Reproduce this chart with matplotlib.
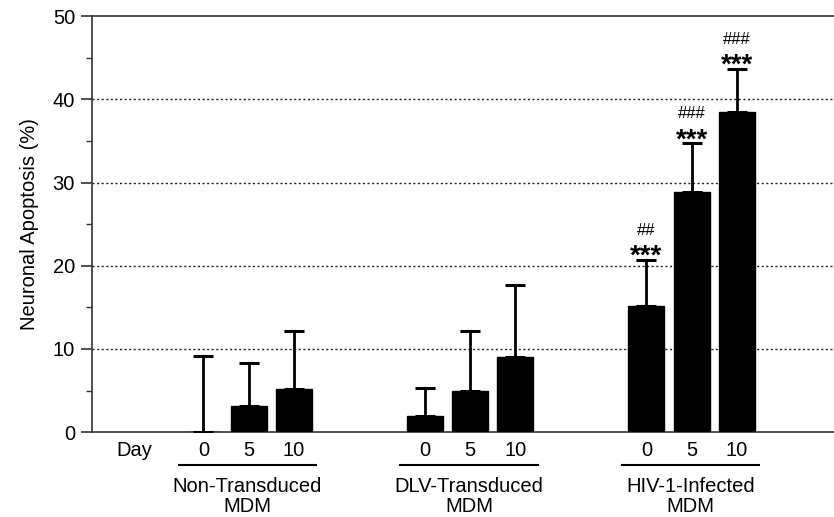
import matplotlib
matplotlib.use("Agg")
from matplotlib import pyplot as plt

plt.rcParams["font.family"] = ["Liberation Sans", "DejaVu Sans"]

groups = ["Non-Transduced\nMDM", "DLV-Transduced\nMDM", "HIV-1-Infected\nMDM"]
days = ["0", "5", "10"]
means = [0.0, 3.1, 5.2, 1.9, 4.9, 9.0, 15.2, 28.8, 38.5]
errors = [9.2, 5.2, 7.0, 3.4, 7.3, 8.7, 5.5, 5.9, 5.1]
stars = ["", "", "", "", "", "", "***", "***", "***"]
hashes = ["", "", "", "", "", "", "##", "###", "###"]

BAR_COLOR = "black"
SPINE_COLOR = "#333333"
FONT_SIZE = 14.5

# bar positions: three bars per group, wider gap between groups
positions = []
for g in range(len(groups)):
    for d in range(len(days)):
        positions.append(g * 4.9 + d)

fig = plt.figure(figsize=(8.34, 5.17), dpi=100)
ax = fig.add_axes([0.110, 0.164, 0.890, 0.805])

ax.bar(positions, means, width=0.8, color=BAR_COLOR, edgecolor=BAR_COLOR, zorder=3)
ax.errorbar(positions, means, yerr=[[0] * len(errors), errors], fmt="none",
            ecolor="black", elinewidth=2.0, capsize=7, capthick=2.2, zorder=4)

for x, m, e, s, h in zip(positions, means, errors, stars, hashes):
    top = m + e
    if s:
        ax.text(x, top - 0.45, s, ha="center", va="baseline", fontsize=20,
                fontweight="bold")
        ax.text(x, top + 3.0, h, ha="center", va="baseline", fontsize=12)

ax.set_ylim(0, 50)
ax.set_xlim(positions[0] - 2.47, positions[-1] + 2.15)
ax.set_yticks([0, 10, 20, 30, 40, 50])
ax.set_yticks([5, 15, 25, 35, 45], minor=True)
for y in [10, 20, 30, 40]:
    ax.axhline(y, color="#222222", linestyle=(0, (1.5, 1.8)), linewidth=1.0, zorder=1)

ax.spines["right"].set_visible(False)
for sp in ["left", "top", "bottom"]:
    ax.spines[sp].set_linewidth(1.2)
    ax.spines[sp].set_color(SPINE_COLOR)

ax.tick_params(axis="y", which="major", length=8, width=1.2, labelsize=FONT_SIZE,
               direction="out", color=SPINE_COLOR, pad=4)
ax.tick_params(axis="y", which="minor", length=4, width=1.0, direction="out",
               color=SPINE_COLOR)
ax.set_xticks(positions)
ax.set_xticklabels(days * len(groups), fontsize=FONT_SIZE)
ax.tick_params(axis="x", length=0, pad=6)
ax.set_ylabel("Neuronal Apoptosis (%)", fontsize=FONT_SIZE, labelpad=10)

trans = ax.get_xaxis_transform()
ax.text(positions[0] - 1.53, -0.0215, "Day", transform=trans, ha="center",
        va="top", fontsize=FONT_SIZE)
for g, name in enumerate(groups):
    start = positions[g * 3] - 0.55
    end = positions[g * 3 + 2] + 0.5
    ax.plot([start, end], [-0.079, -0.079], transform=trans, color="black",
            linewidth=1.5, clip_on=False)
    ax.text((start + end) / 2, -0.107, name, transform=trans, ha="center", va="top",
            fontsize=FONT_SIZE, linespacing=1.08)

fig.savefig("out.png", dpi=100)
